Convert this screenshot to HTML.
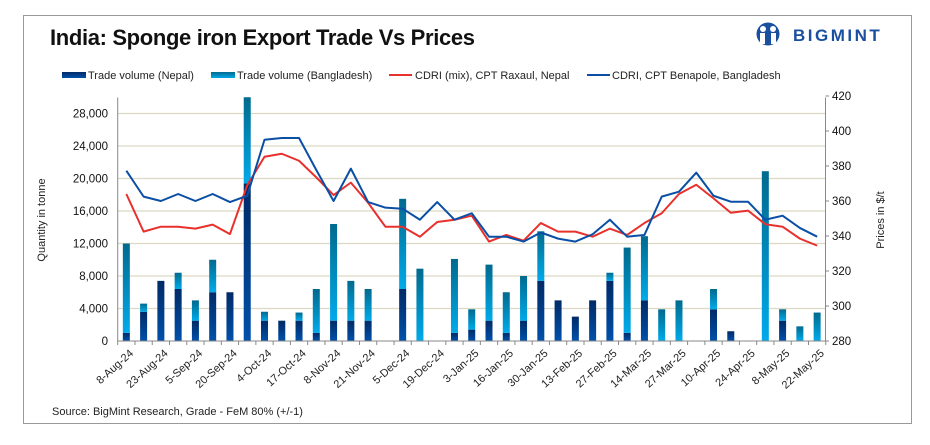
<!DOCTYPE html>
<html><head><meta charset="utf-8">
<style>
body{margin:0;background:#fff;font-family:"Liberation Sans",sans-serif;}
svg text{font-family:"Liberation Sans",sans-serif;}
</style></head>
<body>
<svg width="930" height="440" viewBox="0 0 930 440">
<defs>
<linearGradient id="gN" x1="0" y1="0" x2="0" y2="1"><stop offset="0" stop-color="#002a66"/><stop offset="1" stop-color="#0050aa"/></linearGradient>
<linearGradient id="gB" x1="0" y1="0" x2="0" y2="1"><stop offset="0" stop-color="#006a8e"/><stop offset="1" stop-color="#00aaea"/></linearGradient>
</defs>
<rect x="23.5" y="15.5" width="888" height="408" fill="#fff" stroke="#999"/>
<text x="50" y="45" font-size="22" font-weight="bold" fill="#111" textLength="425">India: Sponge iron Export Trade Vs Prices</text>
<g>
<circle cx="768" cy="34" r="11.5" fill="#1a4fa0"/>
<circle cx="763" cy="29" r="3" fill="#fff"/><circle cx="773" cy="29" r="3" fill="#fff"/>
<rect x="760" y="33" width="5" height="11" fill="#fff"/><rect x="771" y="33" width="5" height="11" fill="#fff"/>
<text x="793" y="41" font-size="17" font-weight="bold" fill="#1a4fa0" letter-spacing="2.5">BIGMINT</text>
</g>
<g id="legend" font-size="11" fill="#222">
<g><rect x="62" y="72" width="24" height="6" fill="url(#gN)"/><text x="88" y="79">Trade volume (Nepal)</text></g>
<g><rect x="211" y="72" width="24" height="6" fill="url(#gB)"/><text x="237" y="79">Trade volume (Bangladesh)</text></g>
<g><line x1="389" y1="75" x2="412" y2="75" stroke="#e8302c" stroke-width="2"/><text x="415" y="79">CDRI (mix), CPT Raxaul, Nepal</text></g>
<g><line x1="587" y1="75" x2="610" y2="75" stroke="#0a4fa5" stroke-width="2"/><text x="612" y="79">CDRI, CPT Benapole, Bangladesh</text></g>
</g>
<g id="grid"></g><g id="bars"></g><g id="lines"></g><g id="axes"></g>
<text transform="translate(45,220) rotate(-90)" text-anchor="middle" font-size="11" fill="#222">Quantity in tonne</text>
<text transform="translate(884,220) rotate(-90)" text-anchor="middle" font-size="11" fill="#222">Prices in $/t</text>
<text x="52" y="415" font-size="11" fill="#222">Source: BigMint Research, Grade - FeM 80% (+/-1)</text>
</svg>
<script>
const dateLabels=["8-Aug-24","23-Aug-24","5-Sep-24","20-Sep-24","4-Oct-24","17-Oct-24","8-Nov-24","21-Nov-24","5-Dec-24","19-Dec-24","3-Jan-25","16-Jan-25","30-Jan-25","13-Feb-25","27-Feb-25","14-Mar-25","27-Mar-25","10-Apr-25","24-Apr-25","8-May-25","22-May-25"];
const nepal=[1000,3600,7400,6400,2500,6000,6000,19400,2500,2500,2500,1000,2500,2500,2500,0,6400,0,0,1000,1400,2500,1000,2500,7400,5000,3000,5000,7400,1000,5000,0,0,0,3900,1200,0,0,2500,0,0];
const bangladesh=[11000,1000,0,2000,2500,4000,0,10600,1100,0,1000,5400,11900,4900,3900,0,11100,8900,0,9100,2500,6900,5000,5500,6100,0,0,0,1000,10500,7900,3900,5000,0,2500,0,0,20900,1400,1800,3500];
const raxaul=[364,342.5,345.3,345.3,344.2,346.5,341.1,369,385.3,387,383,373.5,363.4,370.5,359,345.3,345.3,339.6,348,349.3,351.6,336.8,340.6,337.3,347.4,342.5,342.5,339.6,344.2,340.6,347.4,353,364,369.3,361.5,353.3,354.5,346.7,345.3,338.5,334.5];
const benapole=[377.3,362.5,360,364,360,364,359.4,363,395,396,396,377.7,360,378.5,359.4,356.2,355.6,349.3,359.4,349.3,353,339.6,339.6,336.8,342,338.5,336.8,341,349.3,339.6,340.6,362.5,365.3,376.2,363,359.6,359.6,349.3,351.6,344.6,339.6];
const leftTicks=[0,4000,8000,12000,16000,20000,24000,28000];
const rightTicks=[280,300,320,340,360,380,400,420];

const NS="http://www.w3.org/2000/svg";
const X0=117.7,STEP=17.27,N=nepal.length,Y0=341;
const xC=i=>X0+STEP*(i+0.5);
const yL=v=>Y0-v*32.5/4000;
const yR=v=>Y0-(v-280)*35/20;
const yTop=97.5;
function mk(tag,parent,attrs){const e=document.createElementNS(NS,tag);for(const k in attrs)e.setAttribute(k,attrs[k]);document.getElementById(parent).appendChild(e);return e;}
for(let k=1;k<leftTicks.length;k++){
 const g=mk('line','grid',{x1:X0,x2:825,y1:yL(leftTicks[k]),y2:yL(leftTicks[k]),stroke:'#dcd8c4','stroke-width':1.2});
 
 
}
for(let i=0;i<N;i++){
 const w=7;
 const tot=Math.min(nepal[i]+bangladesh[i],30000);
 if(nepal[i]>0){const r=mk('rect','bars',{x:xC(i)-w/2,y:yL(Math.min(nepal[i],30000)),width:w,height:Y0-yL(Math.min(nepal[i],30000)),fill:'url(#gN)'});
 
 }
 if(bangladesh[i]>0){const r=mk('rect','bars',{x:xC(i)-w/2,y:yL(tot),width:w,height:yL(Math.min(nepal[i],30000))-yL(tot),fill:'url(#gB)'});
 
 }
}
function line(arr,col,name){
 const p=mk('polyline','lines',{points:arr.map((v,i)=>xC(i)+','+yR(v)).join(' '),fill:'none',stroke:col,'stroke-width':2,'stroke-linejoin':'round'});
 
 
}
line(raxaul,'#e8302c','line-raxaul');
line(benapole,'#0a4fa5','line-benapole');
// axes
let a=mk('line','axes',{x1:X0,x2:X0,y1:yTop,y2:Y0,stroke:'#888'});


a=mk('line','axes',{x1:825.5,x2:825.5,y1:yTop,y2:Y0,stroke:'#888'});


a=mk('line','axes',{x1:X0,x2:825.5,y1:Y0,y2:Y0,stroke:'#888'});


for(let i=0;i<=N;i++){const t=mk('line','axes',{x1:X0+STEP*i,x2:X0+STEP*i,y1:Y0,y2:Y0+4,stroke:'#888'});
 
 }
leftTicks.forEach(v=>{const t=mk('text','axes',{x:108,y:yL(v)+4,'text-anchor':'end','font-size':11.5,fill:'#111'});t.textContent=v.toLocaleString('en-US');
 
 });
rightTicks.forEach(v=>{const t=mk('text','axes',{x:832,y:yR(v)+4,'font-size':11.5,fill:'#111'});t.textContent=v;
 
 
 const m=mk('line','axes',{x1:825.5,x2:829,y1:yR(v),y2:yR(v),stroke:'#888'});
 
 });
dateLabels.forEach((d,k)=>{const x=xC(k*2)+3,y=Y0+8;
 const t=mk('text','axes',{x:x,y:y+7,'text-anchor':'end','font-size':11,fill:'#222',transform:`rotate(-42 ${x} ${y})`});t.textContent=d;
 
 });
</script>
</body></html>
